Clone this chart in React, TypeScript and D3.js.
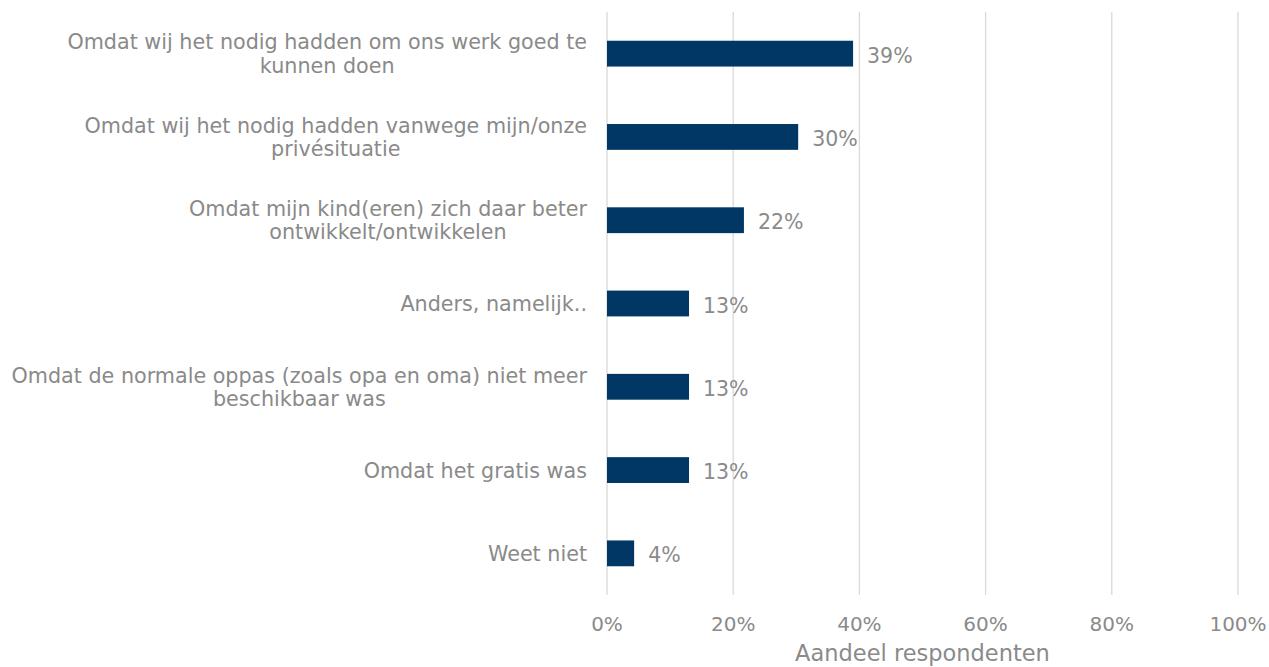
import React, { useEffect, useRef } from "react";
import * as d3 from "d3";

const categories: string[][] = [
  ["Omdat wij het nodig hadden om ons werk goed te", "kunnen doen"],
  ["Omdat wij het nodig hadden vanwege mijn/onze", "privésituatie"],
  ["Omdat mijn kind(eren) zich daar beter", "ontwikkelt/ontwikkelen"],
  ["Anders, namelijk.."],
  ["Omdat de normale oppas (zoals opa en oma) niet meer", "beschikbaar was"],
  ["Omdat het gratis was"],
  ["Weet niet"],
];
const values: number[] = [0.39, 0.303, 0.217, 0.13, 0.13, 0.13, 0.043];
const valueLabels: string[] = ["39%", "30%", "22%", "13%", "13%", "13%", "4%"];
const ticks: number[] = [0, 0.2, 0.4, 0.6, 0.8, 1.0];
const axisTitle = "Aandeel respondenten";

const W = 1269, H = 667;
const M = { left: 607, right: 1238, top: 12, bottom: 595 };
const FONT = "'DejaVu Sans', Verdana, sans-serif";
const GREY = "#8a8a8a";

export default function App() {
  const ref = useRef<SVGSVGElement>(null);
  useEffect(() => {
    const svg = d3.select(ref.current!);
    svg.selectAll("*").remove();
    const x = d3.scaleLinear().domain([0, 1]).range([M.left, M.right]);
    const y = d3
      .scaleBand<number>()
      .domain(d3.range(categories.length))
      .range([M.top, M.bottom])
      .paddingInner(0.69)
      .paddingOuter(0.345);

    svg
      .append("g")
      .selectAll("line")
      .data(ticks)
      .join("line")
      .attr("x1", (d) => x(d))
      .attr("x2", (d) => x(d))
      .attr("y1", M.top)
      .attr("y2", M.bottom)
      .attr("stroke", "#d9d9d9")
      .attr("stroke-width", 1.3);

    svg
      .append("g")
      .selectAll("text")
      .data(ticks)
      .join("text")
      .attr("x", (d) => x(d))
      .attr("y", 631)
      .attr("text-anchor", "middle")
      .attr("font-family", FONT)
      .attr("font-size", 20)
      .attr("fill", GREY)
      .text((d) => d3.format(".0%")(d));

    svg
      .append("text")
      .attr("x", (M.left + M.right) / 2)
      .attr("y", 661)
      .attr("text-anchor", "middle")
      .attr("font-family", FONT)
      .attr("font-size", 22.5)
      .attr("fill", GREY)
      .text(axisTitle);

    svg
      .append("g")
      .selectAll("rect")
      .data(values)
      .join("rect")
      .attr("x", x(0))
      .attr("y", (_, i) => y(i)!)
      .attr("width", (d) => x(d) - x(0))
      .attr("height", y.bandwidth())
      .attr("fill", "#003764");

    svg
      .append("g")
      .selectAll("text")
      .data(values)
      .join("text")
      .attr("x", (d) => x(d) + 14)
      .attr("y", (_, i) => y(i)! + y.bandwidth() / 2 + 9)
      .attr("font-family", FONT)
      .attr("font-size", 20.5)
      .attr("fill", GREY)
      .text((_, i) => valueLabels[i]);

    const lineH = 23.5;
    categories.forEach((lines, i) => {
      const cy = y(i)! + y.bandwidth() / 2;
      const g = svg.append("g");
      const texts = lines.map((l, j) =>
        g
          .append("text")
          .attr("font-family", FONT)
          .attr("font-size", 20.7)
          .attr("fill", GREY)
          .attr("text-anchor", "middle")
          .attr("y", cy + (j - (lines.length - 1) / 2) * lineH + 7.5)
          .text(l)
      );
      const maxW = d3.max(texts, (t) => (t.node() as SVGTextElement).getComputedTextLength()) || 0;
      const center = 587 - maxW / 2;
      texts.forEach((t) => t.attr("x", center));
    });
  }, []);
  return (
    <svg
      ref={ref}
      width={W}
      height={H}
      style={{ position: "absolute", left: 0, top: 0, background: "#fff" }}
    />
  );
}
